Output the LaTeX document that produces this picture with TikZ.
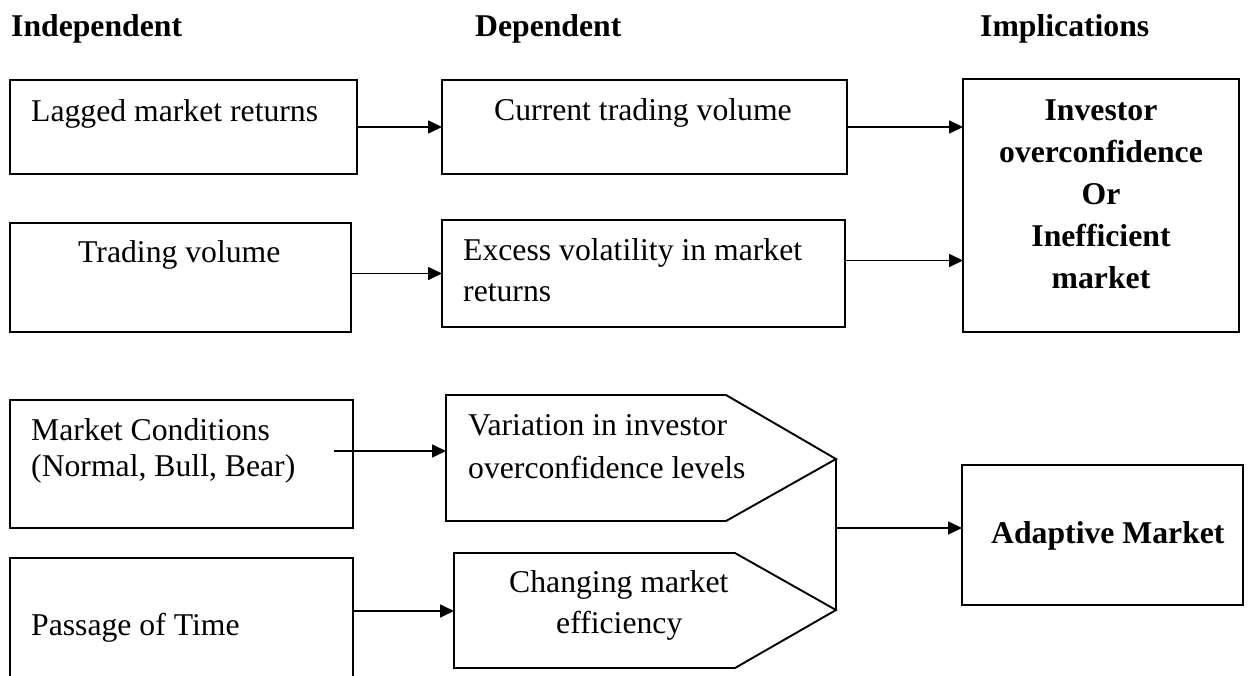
\documentclass[tikz,border=0pt]{standalone}
\usepackage{fontspec}
\setmainfont{Liberation Serif}
\usetikzlibrary{arrows.meta}
\begin{document}
\begin{tikzpicture}[x=1pt,y=-1pt,
  box/.style={draw, line width=1.9pt, anchor=north west, inner sep=0pt, outer sep=0pt},
  txt/.style={anchor=base west, inner sep=0pt, font=\fontsize{31.7}{38}\selectfont},
  hdr/.style={anchor=base west, inner sep=0pt, font=\fontsize{31.7}{38}\selectfont\bfseries},
  btxt/.style={anchor=base, inner sep=0pt, font=\fontsize{31.7}{38}\selectfont\bfseries},
  arr/.style={line width=1.7pt, -{Triangle[length=14pt,width=13pt]}},
  link/.style={line width=1.7pt},
  pent/.style={draw, line width=1.9pt, line join=miter}]
\clip (0,0) rectangle (1248,675);

% column headings
\node[hdr] (hInd) at (11,36) {Independent};
\node[hdr] (hDep) at (475,36) {Dependent};
\node[hdr] (hImp) at (980,36) {Implications};

% independent variables
\node[box, minimum width=347pt, minimum height=94pt]  (lag)  at (10,80)  {};
\node[box, minimum width=341pt, minimum height=109pt] (tv)   at (10,223) {};
\node[box, minimum width=343pt, minimum height=128pt] (mc)   at (10,400) {};
\node[box, minimum width=343pt, minimum height=142pt] (pass) at (10,558) {};
\node[txt] (tLag)  at (31,121) {Lagged market returns};
\node[txt] (tTv)   at (78,262) {Trading volume};
\node[txt] (tMc1)  at (31,440) {Market Conditions};
\node[txt] (tMc2)  at (31,476) {(Normal, Bull, Bear)};
\node[txt] (tPass) at (31,635) {Passage of Time};

% dependent variables
\node[box, minimum width=405pt, minimum height=94pt]  (cur) at (442,80)  {};
\node[box, minimum width=403pt, minimum height=107pt] (exc) at (442,220) {};
\node[txt] (tCur)  at (494,120) {Current trading volume};
\node[txt] (tExc1) at (463,260) {Excess volatility in market};
\node[txt] (tExc2) at (463,301) {returns};

\draw[pent] (446,395) -- (726,395) -- (836,459) -- (726,521) -- (446,521) -- cycle;
\draw[pent] (454,553) -- (735,553) -- (836,610) -- (735,668) -- (454,668) -- cycle;
\coordinate (varIn)  at (446,451);
\coordinate (varTip) at (836,459);
\coordinate (chgIn)  at (454,611);
\coordinate (chgTip) at (836,610);
\node[txt] (tVar1) at (468,435) {Variation in investor};
\node[txt] (tVar2) at (468,478) {overconfidence levels};
\node[txt] (tChg1) at (509,592) {Changing market};
\node[txt] (tChg2) at (556,633) {efficiency};

% implications
\node[box, minimum width=276pt, minimum height=253pt] (impl)  at (963,79)  {};
\node[box, minimum width=281pt, minimum height=140pt] (adapt) at (962,465) {};
\node[btxt] (tImp1) at (1101,120) {Investor};
\node[btxt] (tImp2) at (1101,162) {overconfidence};
\node[btxt] (tImp3) at (1101,204) {Or};
\node[btxt] (tImp4) at (1101,246) {Inefficient};
\node[btxt] (tImp5) at (1101,288) {market};
\node[hdr] (tAdapt) at (991,543) {Adaptive Market};

% connectors
\coordinate (mcOut) at (334,451);
\coordinate (join)  at (836,528);
\draw[arr] (lag.east) -- (cur.west);
\draw[arr] (tv.east |- exc.west) -- (exc.west);
\draw[arr] (mcOut) -- (varIn);
\draw[arr] (pass.east |- chgIn) -- (chgIn);
\draw[arr] (cur.east) -- (cur.east -| impl.west);
\draw[arr] ([yshift=13pt]exc.east) -- ([yshift=13pt]exc.east -| impl.west);
\draw[link] (varTip) -- (chgTip);
\draw[arr] (join) -- (join -| adapt.west);
\end{tikzpicture}
\end{document}
